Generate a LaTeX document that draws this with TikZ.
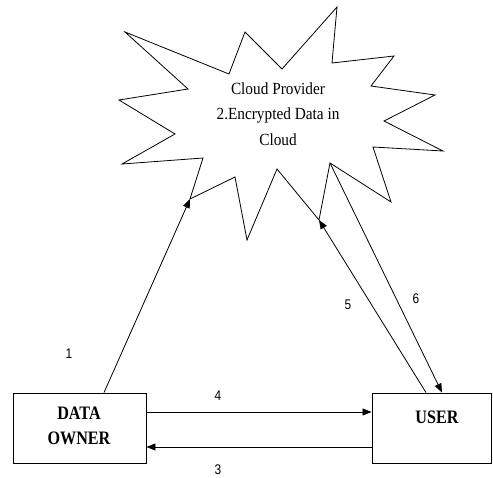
\documentclass[tikz,border=0pt]{standalone}
\usepackage{fontspec}
\setmainfont{Liberation Serif}
\newfontfamily\condserif[FakeStretch=0.9]{Liberation Serif}
\newfontfamily\condbold[FakeStretch=0.85]{Liberation Serif}
\newfontfamily\condsans[FakeStretch=0.85]{Liberation Sans}
\usetikzlibrary{arrows.meta,calc}
\tikzset{
  boxstyle/.style={draw, line width=0.9pt, minimum width=133pt, minimum height=70pt, inner sep=0pt},
  boxtext/.style={font=\condbold\fontsize{19}{25}\selectfont\bfseries, align=center, inner sep=0pt},
  numlabel/.style={font=\condsans\fontsize{14}{16}\selectfont, inner sep=0pt},
  conn/.style={line width=0.8pt, -{Triangle[length=9pt,width=7pt]}},
  starline/.style={line width=0.8pt, line join=miter}
}
\begin{document}
\begin{tikzpicture}[x=1pt,y=-1pt]
\useasboundingbox (0,0) rectangle (493,477);
% star vertices
\coordinate (s1) at (125,32);
\coordinate (s2) at (229,74);
\coordinate (s3) at (245,32);
\coordinate (s4) at (282,69);
\coordinate (s5) at (337,7);
\coordinate (s6) at (332,63);
\coordinate (s7) at (394,56);
\coordinate (s8) at (371,86);
\coordinate (s9) at (435,95);
\coordinate (s10) at (384,121);
\coordinate (s11) at (443,151);
\coordinate (s12) at (373,147);
\coordinate (s13) at (391,202);
\coordinate (s14) at (330,163);
\coordinate (s15) at (319,220);
\coordinate (s16) at (277,169);
\coordinate (s17) at (247,240);
\coordinate (s18) at (235,177);
\coordinate (s19) at (190,199);
\coordinate (s20) at (203,158);
\coordinate (s21) at (122,164);
\coordinate (s22) at (175,134);
\coordinate (s23) at (119,100);
\coordinate (s24) at (188,89);
\draw[starline] (s1) -- (s2) -- (s3) -- (s4) -- (s5) -- (s6) -- (s7) -- (s8) -- (s9) -- (s10) -- (s11) -- (s12) -- (s13) -- (s14) -- (s15) -- (s16) -- (s17) -- (s18) -- (s19) -- (s20) -- (s21) -- (s22) -- (s23) -- (s24) -- cycle;
\node[font=\condserif\fontsize{17}{25.5}\selectfont, align=center, inner sep=0pt] (cloudtxt) at (278,114) {Cloud Provider\\2.Encrypted Data in\\Cloud};
% boxes
\node[boxstyle] (owner) at (79.5,428) {};
\node[boxstyle, minimum width=119pt] (user) at (431.5,428) {};
\node[boxtext] (ownertxt) at (79,425.5) {DATA\\OWNER};
\node[boxtext] (usertxt) at (437,417) {USER};
% connectors
\draw[conn] ([xshift=24.5pt]owner.north) -- (s19);
\draw[conn] ([xshift=-5.5pt]user.north) -- (s15);
\draw[conn] (s14) -- ([xshift=10.5pt]user.north);
\draw[conn] ([yshift=16pt]owner.east) -- ([yshift=16pt]user.west);
\draw[conn] ([yshift=-19pt]user.west) -- ([yshift=-19pt]owner.east);
% labels
\node[numlabel] (l1) at (69,354) {1};
\node[numlabel] (l4) at (218,396) {4};
\node[numlabel] (l3) at (218,470) {3};
\node[numlabel] (l5) at (348,305) {5};
\node[numlabel] (l6) at (416,299) {6};
\end{tikzpicture}
\end{document}
